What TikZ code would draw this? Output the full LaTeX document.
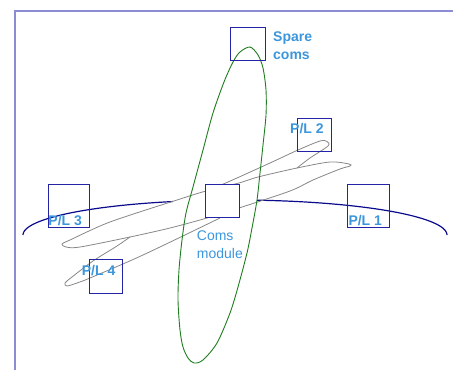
\documentclass[tikz,border=0pt]{standalone}
\usepackage{fontspec}
\setmainfont{Liberation Sans}
\definecolor{boxblue}{RGB}{35,35,165}
\definecolor{arcblue}{RGB}{10,10,140}
\definecolor{framelav}{RGB}{140,140,210}
\definecolor{labelblue}{RGB}{60,150,220}
\definecolor{loopgreen}{RGB}{30,125,30}
\definecolor{loopgray}{RGB}{135,135,135}

\begin{document}
\begin{tikzpicture}[x=1pt, y=-1pt,
    unit/.style={draw=boxblue, line width=0.9pt, inner sep=0pt},
    tag/.style={text=labelblue, font=\fontsize{14}{18.3}\selectfont\bfseries, inner sep=0pt}]
    \useasboundingbox (0,0) rectangle (453,370);
    \draw[framelav, line width=1.3pt] (15,370) -- (15,11) -- (453,11);
    % orbit, broken behind the module
    \draw[arcblue, line width=1.2pt] plot[domain=180:107, samples=40] ({235+212*cos(\x)}, {235-35*sin(\x)});
    \draw[arcblue, line width=1.2pt] plot[domain=84:0, samples=40] ({235+212*cos(\x)}, {235-35*sin(\x)});
    % links
    \draw[loopgray, line width=0.8pt] plot[smooth cycle] coordinates {(349,164) (330,162) (297,168) (258,177) (239,183) (206,191) (177,200) (110,222) (70,240) (62,244) (66,247) (80,247) (130,237) (170,228) (207,218) (239,208) (290,191) (313,180) (340,169) (350,166)};
    \draw[loopgray, line width=0.8pt] plot[smooth] coordinates {(206,191) (228,182) (270,163) (298,150) (320,141) (327,141.5) (328,146) (310,158) (297,168)};
    \draw[loopgray, line width=0.8pt] plot[smooth] coordinates {(130,237) (117,246) (93,261) (72,277) (65,283) (67,286) (77,283) (90,278) (143,255) (220,218)};
    \draw[loopgreen, line width=0.9pt] plot[smooth cycle] coordinates {(250,47) (258,55) (263,68) (266,90) (266,115) (263,145) (260,173) (257,200) (252,228) (247,253) (238,287) (230,313) (217,343) (203,360) (194,363) (188,358) (183,347) (180,330) (178,300) (179,270) (182,240) (186,213) (193,187) (203,150) (213,113) (224,82) (233,62) (240,52)};
    % modules
    \node[unit, fill=white, minimum width=33.6pt, minimum height=33.7pt] (coms) at (222.5,200.8) {};
    \foreach \n/\x/\y/\w/\h in {spare/247.5/44/35/33.5, pl2/314.2/134.7/33.7/33.3, pl1/368.2/205.7/41.7/42.7, pl3/69/205.7/41.4/42.7, pl4/106.2/276.3/33/33.3}
        \node[unit, minimum width=\w pt, minimum height=\h pt] (\n) at (\x,\y) {};
    \foreach \k/\x/\y in {1/348.3/225, 2/290/133.3, 3/48.3/225, 4/81.7/275}
        \node[tag, anchor=base west] (tag\k) at (\x,\y) {P/L \k};
    \node[tag, anchor=north west, align=left] (sparetag) at (273,31.5) {Spare\\coms};
    \node[tag, font=\fontsize{14}{18.3}\selectfont, anchor=north west, align=left] (comstag) at (196.7,230.5) {Coms\\module};
\end{tikzpicture}
\end{document}
